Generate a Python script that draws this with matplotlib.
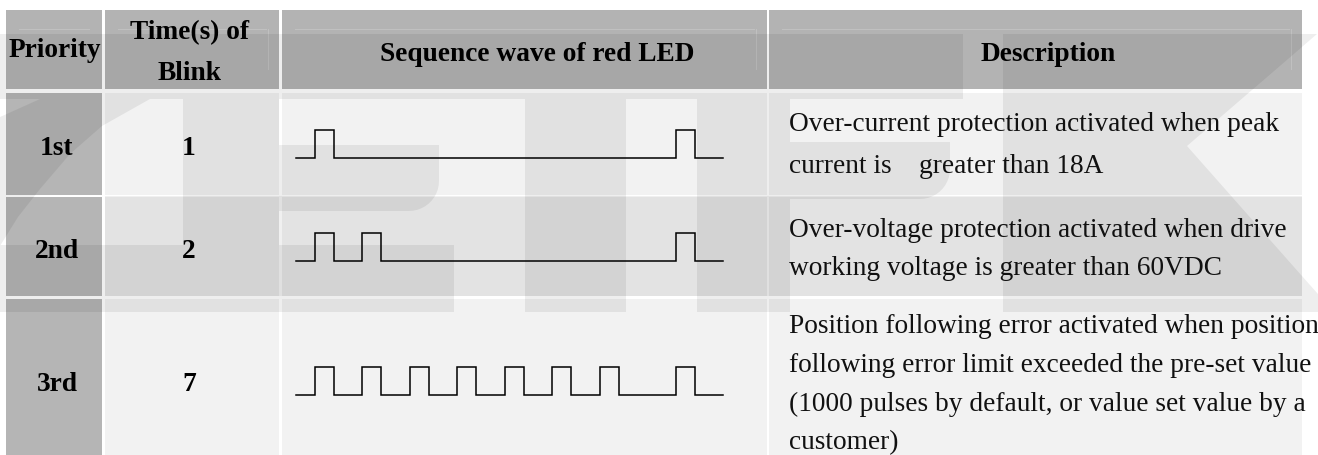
import matplotlib
matplotlib.use("Agg")
import matplotlib.pyplot as plt
import numpy as np
from matplotlib.patches import Rectangle, PathPatch
from matplotlib.path import Path

plt.rcParams['font.family'] = ['Liberation Serif', 'DejaVu Serif']

# ---- table content ----
header_lines = [['Priority'], ['Time(s) of', 'Blink'], ['Sequence wave of red LED'], ['Description']]
priorities = ['1st', '2nd', '3rd']
blink_times = ['1', '2', '7']
descriptions = [
    ['Over-current protection activated when peak',
     'current is    greater than 18A'],
    ['Over-voltage protection activated when drive',
     'working voltage is greater than 60VDC'],
    ['Position following error activated when position',
     'following error limit exceeded the pre-set value',
     '(1000 pulses by default, or value set value by a',
     'customer)'],
]

# LED "on" pulses (time in pulse widths), the next cycle starts at t = 19
pulse_starts = [
    [0],
    [0, 2.5],
    [0, 2.5, 5, 7.5, 10, 12.5, 15],
]
next_cycle = 19
pulse_width = 1
t_begin, t_end = -1, 21.5

# ---- layout (pixels of a 1318 x 456 canvas) ----
W, H = 1318, 456
col_x = [(6, 102), (105, 279), (282, 767), (769, 1302)]
head_y = (11, 90)
row_y = [(94, 196), (198, 297), (300, 460)]
header_cx = [55, 190, 537, 1048]
header_base = [[57], [39, 80], [61], [61]]
cell_base = [155, 258, 391]
desc_x = 789
desc_base = [[131, 173], [237, 275], [333, 372, 411, 449]]
wave_y = [(159, 131), (262, 234), (396, 368)]   # (low, high)
wave_x = (296, 723)

HEAD_C = '#b3b3b3'
COL1_C = '#b5b5b5'
BODY_C = '#f2f2f2'
FS = 19.7

fig = plt.figure(figsize=(W / 100, H / 100), dpi=100)
ax = fig.add_axes([0, 0, 1, 1])
ax.set_xlim(0, W)
ax.set_ylim(H, 0)
ax.axis('off')

# cells
for j, (x0, x1) in enumerate(col_x):
    ax.add_patch(Rectangle((x0, head_y[0]), x1 - x0, head_y[1] - head_y[0],
                           facecolor=HEAD_C, edgecolor='none', zorder=1))
    for (y0, y1) in row_y:
        ax.add_patch(Rectangle((x0, y0), x1 - x0, y1 - y0,
                               facecolor=COL1_C if j == 0 else BODY_C,
                               edgecolor='none', zorder=1))

# faint inner rules left over from the original document
for j, (x0, x1) in enumerate(col_x):
    ax.plot([x0 + 13, x1 - 13], [30, 30], color='white', alpha=0.18, lw=0.8, zorder=1.5)
    if j > 0:
        ax.plot([x1 - 11, x1 - 11], [30, 70], color='white', alpha=0.18, lw=0.8, zorder=1.5)


# ---- watermark logo (semi transparent grey shapes) ----
def rect(x0, y0, x1, y1):
    return [(x0, y0), (x1, y0), (x1, y1), (x0, y1)]


def rounded_bar(x0, y0, x1, y1, r):
    th = np.linspace(0, np.pi / 2, 12)
    arc = [(x1 - r + r * np.cos(a), y1 - r + r * np.sin(a)) for a in th]
    return [(x0, y0), (x1, y0)] + arc + [(x0, y1)]


def union_patch(polys, alpha):
    verts, codes = [], []
    for p in polys:
        p = np.asarray(p, float)
        area = np.sum(p[:, 0] * np.roll(p[:, 1], -1) - np.roll(p[:, 0], -1) * p[:, 1])
        if area < 0:
            p = p[::-1]
        verts += list(map(tuple, p)) + [tuple(p[0])]
        codes += [Path.MOVETO] + [Path.LINETO] * (len(p) - 1) + [Path.CLOSEPOLY]
    return PathPatch(Path(verts, codes), facecolor='black', edgecolor='none',
                     alpha=alpha, zorder=2)


logo = [
    rect(0, 35, 963, 100),                                   # top bars
    [(0, 118), (40, 100), (150, 100), (102, 127), (70, 155),
     (40, 190), (18, 218), (0, 247)],                        # Z diagonal
    rect(0, 246, 454, 313),                                  # bottom bar
    rect(183, 35, 279, 313),                                 # first stem
    rounded_bar(183, 146, 439, 212, 30),
    rect(525, 35, 626, 313),                                 # T stem
    rect(697, 35, 790, 313),                                 # second stem
    rounded_bar(697, 143, 950, 200, 30),
    [(1003, 35), (1317, 35), (1187, 147), (1302, 277), (1318, 295),
     (1318, 313), (1003, 313)],                              # K
]
ax.add_patch(union_patch(logo, 0.067))
ax.add_patch(union_patch([rect(105, 197, 1302, 297)], 0.06))

# ---- text ----
for j in range(4):
    for line, yb in zip(header_lines[j], header_base[j]):
        ax.text(header_cx[j], yb, line, ha='center', va='baseline',
                fontsize=FS, fontweight='bold', zorder=5)

for i in range(3):
    ax.text(57, cell_base[i], priorities[i], ha='center', va='baseline',
            fontsize=FS, fontweight='bold', zorder=5)
    ax.text(189, cell_base[i], blink_times[i], ha='center', va='baseline',
            fontsize=FS, fontweight='bold', zorder=5)
    for line, yb in zip(descriptions[i], desc_base[i]):
        ax.text(desc_x, yb, line, ha='left', va='baseline', fontsize=FS,
                color='#111111', zorder=5, clip_on=False)

# ---- LED sequence waves ----
for i, starts in enumerate(pulse_starts):
    t = [t_begin]
    v = [0]
    for s in starts + [next_cycle]:
        t += [s, s + pulse_width]
        v += [1, 0]
    t.append(t_end)
    v.append(0)
    low, high = wave_y[i]
    wax = fig.add_axes([wave_x[0] / W, 1 - low / H,
                        (wave_x[1] - wave_x[0]) / W, (low - high) / H])
    wax.set_xlim(t_begin, t_end)
    wax.set_ylim(0, 1)
    wax.axis('off')
    wax.plot(t, v, drawstyle='steps-post', color='black', lw=1.1,
             clip_on=False, solid_joinstyle='miter')

fig.savefig('out.png', dpi=100)
